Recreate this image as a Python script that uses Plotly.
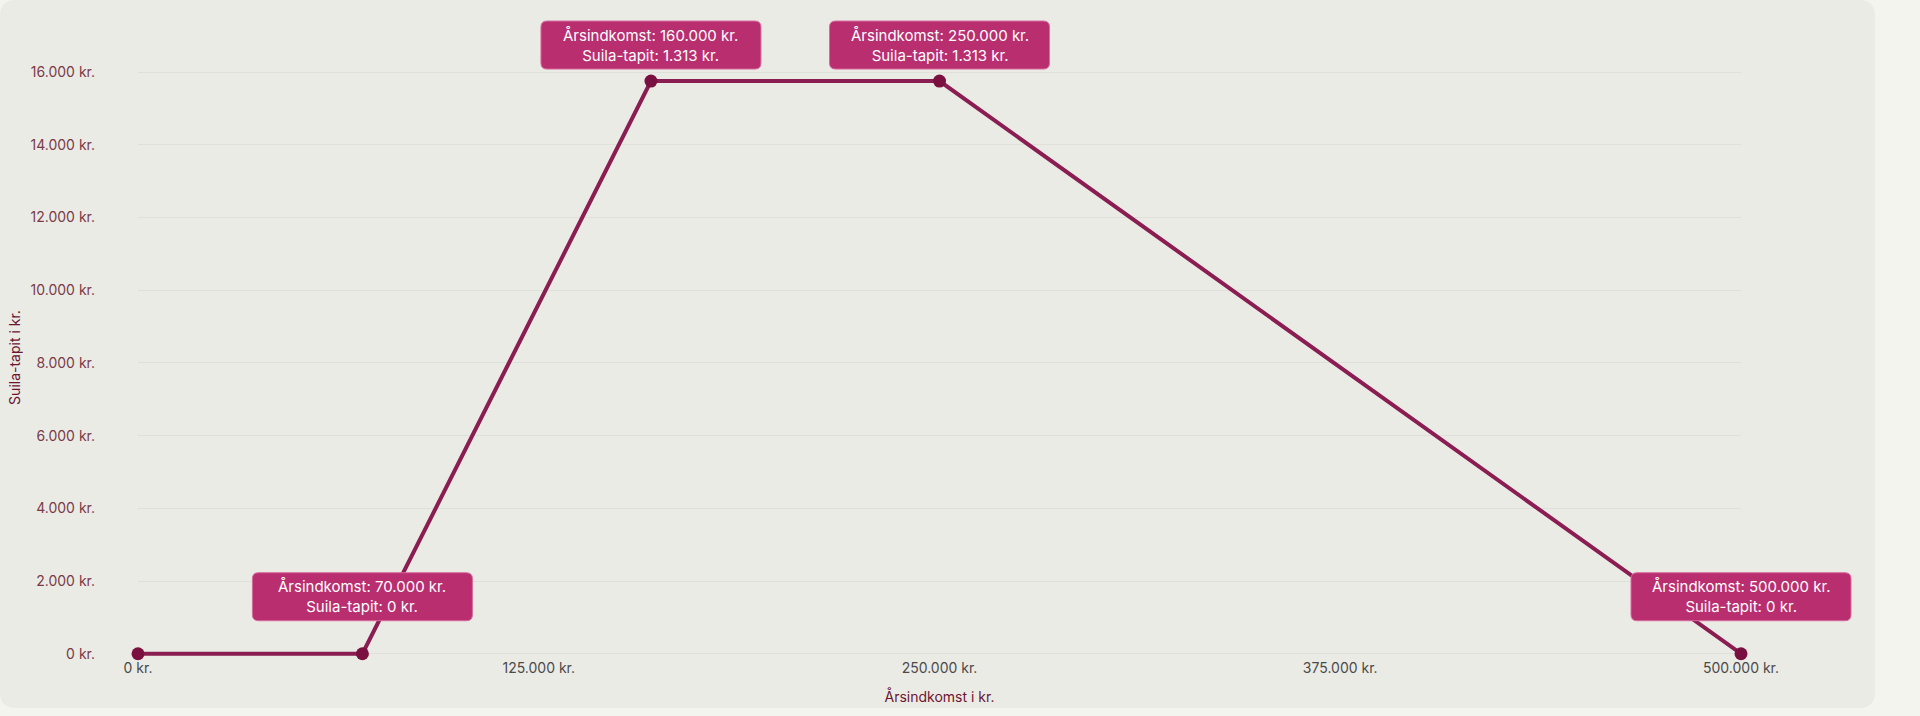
import plotly.graph_objects as go

# Suila-tapit as a function of annual income (yearly values, labels show monthly)
income = [0, 70000, 160000, 250000, 500000]
loss_yearly = [0, 0, 15756, 15756, 0]
labelled = [70000, 160000, 250000, 500000]
x_ticks = [0, 125000, 250000, 375000, 500000]
y_ticks = [0, 2000, 4000, 6000, 8000, 10000, 12000, 14000, 16000]

FONT = "Inter"
W, H = 1920, 716
X_RANGE = [0, 500000]
Y_RANGE = [-200, 16500]
# plot area: x 0..500000 -> 138..1741 px, y 0..16000 -> 654..72 px
L, R, T = 138, 179, 54
B = round(H - (654 + 200 * (654 - 72) / 16000))
PW, PH = W - L - R, H - T - B


def kr(v):
    return f"{int(round(v)):,}".replace(",", ".") + " kr."


def px(xp):
    return (xp - L) / PW


def py(yp):
    return (H - B - yp) / PH


def rounded_path(x0, y0, x1, y1, r, fx=lambda v: v, fy=lambda v: v):
    # rectangle path with rounded corners; y0 is the top edge in pixel sense
    return (f"M {fx(x0 + r)},{fy(y0)} L {fx(x1 - r)},{fy(y0)} "
            f"Q {fx(x1)},{fy(y0)} {fx(x1)},{fy(y0 + r)} "
            f"L {fx(x1)},{fy(y1 - r)} Q {fx(x1)},{fy(y1)} {fx(x1 - r)},{fy(y1)} "
            f"L {fx(x0 + r)},{fy(y1)} Q {fx(x0)},{fy(y1)} {fx(x0)},{fy(y1 - r)} "
            f"L {fx(x0)},{fy(y0 + r)} Q {fx(x0)},{fy(y0)} {fx(x0 + r)},{fy(y0)} Z")


fig = go.Figure()
fig.add_trace(go.Scatter(
    x=income, y=loss_yearly, mode="lines+markers",
    line=dict(color="#8a1d52", width=4),
    marker=dict(color="#7a1040", size=13),
    cliponaxis=False, hoverinfo="skip", showlegend=False,
))

shapes = [dict(type="path", xref="paper", yref="paper", layer="below",
               path=rounded_path(0, 0, 1875, 708, 16, px, py),
               fillcolor="#ebebe6", line=dict(width=0))]
annotations = []
BW, BH = 220, 48
for xv, yv in zip(income, loss_yearly):
    if xv not in labelled:
        continue
    gap = 12 if yv > 0 else 33
    # tooltip-like box, pixel sized, anchored on the point (paper ref so it is not clipped)
    shapes.append(dict(
        type="path", xref="paper", yref="paper",
        xsizemode="pixel", ysizemode="pixel",
        xanchor=(xv - X_RANGE[0]) / (X_RANGE[1] - X_RANGE[0]),
        yanchor=(yv - Y_RANGE[0]) / (Y_RANGE[1] - Y_RANGE[0]),
        layer="above",
        path=rounded_path(-BW / 2, -(gap + BH), BW / 2, -gap, 6,
                          fy=lambda v: -v),
        fillcolor="#b82e6f", line=dict(color="#d86a9c", width=1),
    ))
    annotations.append(dict(
        x=xv, y=yv, xref="x", yref="y", showarrow=False,
        yanchor="middle", yshift=gap + BH / 2,
        text=f"Årsindkomst: {kr(xv)}<br>Suila-tapit: {kr(yv / 12)}",
        font=dict(family=FONT, size=15, color="white"), align="center",
    ))

fig.update_layout(
    width=W, height=H,
    margin=dict(l=L, r=R, t=T, b=B),
    paper_bgcolor="#f4f4ee",
    plot_bgcolor="rgba(0,0,0,0)",
    font=dict(family=FONT, size=14, color="#555"),
    shapes=shapes,
    annotations=annotations,
    xaxis=dict(
        range=X_RANGE, tickvals=x_ticks, ticktext=[kr(v) for v in x_ticks],
        showgrid=False, zeroline=False, showline=False, ticklabelstandoff=-3,
        tickfont=dict(family=FONT, size=14, color="#4a4a4a"),
        title=dict(text="Årsindkomst i kr.", standoff=17,
                   font=dict(family=FONT, size=14, color="#6b1530")),
    ),
    yaxis=dict(
        range=Y_RANGE, tickvals=y_ticks, ticktext=[kr(v) for v in y_ticks],
        showgrid=True, gridcolor="#e0e0da", gridwidth=1,
        zeroline=False, showline=False, ticklabelstandoff=42,
        tickfont=dict(family=FONT, size=14, color="#7a3a46"),
        title=dict(text="Suila-tapit i kr.", standoff=6,
                   font=dict(family=FONT, size=14, color="#6b1530")),
    ),
)

# page body has a default 8px margin; remove it so the figure fills the window
fig.write_html("out.html", config={"displayModeBar": False},
               post_script="document.body.style.margin='0px';")
